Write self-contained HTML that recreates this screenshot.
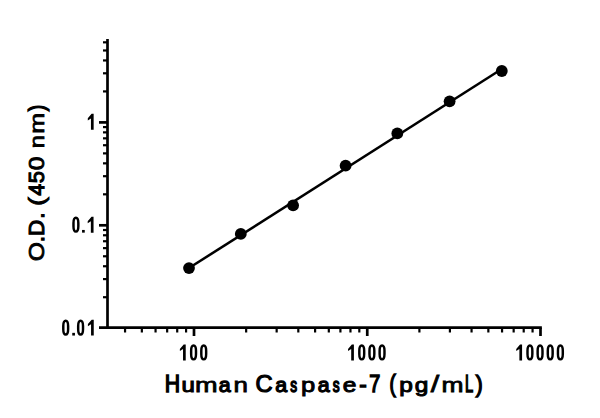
<!DOCTYPE html>
<html><head><meta charset="utf-8"><style>
html,body{margin:0;padding:0;background:#fff;width:600px;height:418px;overflow:hidden}
svg{display:block}
.ti{font-family:"Liberation Sans",sans-serif;font-weight:normal;fill:#000;stroke:#000;stroke-width:1.0px;vector-effect:non-scaling-stroke}
</style></head><body>
<svg width="600" height="418" viewBox="0 0 600 418">
<line x1="107.5" y1="39" x2="107.5" y2="329.05" stroke="#000" stroke-width="2.7"/>
<line x1="99" y1="327.7" x2="541.85" y2="327.7" stroke="#000" stroke-width="2.7"/>
<line x1="99" y1="122.40" x2="107.5" y2="122.40" stroke="#000" stroke-width="2.7"/>
<line x1="99" y1="225.30" x2="107.5" y2="225.30" stroke="#000" stroke-width="2.7"/>
<line x1="103" y1="297.22" x2="107.5" y2="297.22" stroke="#000" stroke-width="2.2"/>
<line x1="103" y1="279.10" x2="107.5" y2="279.10" stroke="#000" stroke-width="2.2"/>
<line x1="103" y1="266.25" x2="107.5" y2="266.25" stroke="#000" stroke-width="2.2"/>
<line x1="103" y1="256.28" x2="107.5" y2="256.28" stroke="#000" stroke-width="2.2"/>
<line x1="103" y1="248.13" x2="107.5" y2="248.13" stroke="#000" stroke-width="2.2"/>
<line x1="103" y1="241.24" x2="107.5" y2="241.24" stroke="#000" stroke-width="2.2"/>
<line x1="103" y1="235.27" x2="107.5" y2="235.27" stroke="#000" stroke-width="2.2"/>
<line x1="103" y1="230.01" x2="107.5" y2="230.01" stroke="#000" stroke-width="2.2"/>
<line x1="103" y1="194.32" x2="107.5" y2="194.32" stroke="#000" stroke-width="2.2"/>
<line x1="103" y1="176.20" x2="107.5" y2="176.20" stroke="#000" stroke-width="2.2"/>
<line x1="103" y1="163.35" x2="107.5" y2="163.35" stroke="#000" stroke-width="2.2"/>
<line x1="103" y1="153.38" x2="107.5" y2="153.38" stroke="#000" stroke-width="2.2"/>
<line x1="103" y1="145.23" x2="107.5" y2="145.23" stroke="#000" stroke-width="2.2"/>
<line x1="103" y1="138.34" x2="107.5" y2="138.34" stroke="#000" stroke-width="2.2"/>
<line x1="103" y1="132.37" x2="107.5" y2="132.37" stroke="#000" stroke-width="2.2"/>
<line x1="103" y1="127.11" x2="107.5" y2="127.11" stroke="#000" stroke-width="2.2"/>
<line x1="103" y1="91.42" x2="107.5" y2="91.42" stroke="#000" stroke-width="2.2"/>
<line x1="103" y1="73.30" x2="107.5" y2="73.30" stroke="#000" stroke-width="2.2"/>
<line x1="103" y1="60.45" x2="107.5" y2="60.45" stroke="#000" stroke-width="2.2"/>
<line x1="103" y1="50.48" x2="107.5" y2="50.48" stroke="#000" stroke-width="2.2"/>
<line x1="103" y1="42.33" x2="107.5" y2="42.33" stroke="#000" stroke-width="2.2"/>
<line x1="194.00" y1="327.7" x2="194.00" y2="336" stroke="#000" stroke-width="2.7"/>
<line x1="367.25" y1="327.7" x2="367.25" y2="336" stroke="#000" stroke-width="2.7"/>
<line x1="540.50" y1="327.7" x2="540.50" y2="336" stroke="#000" stroke-width="2.7"/>
<line x1="125.06" y1="327.7" x2="125.06" y2="332.5" stroke="#000" stroke-width="2.2"/>
<line x1="141.85" y1="327.7" x2="141.85" y2="332.5" stroke="#000" stroke-width="2.2"/>
<line x1="155.56" y1="327.7" x2="155.56" y2="332.5" stroke="#000" stroke-width="2.2"/>
<line x1="167.16" y1="327.7" x2="167.16" y2="332.5" stroke="#000" stroke-width="2.2"/>
<line x1="177.21" y1="327.7" x2="177.21" y2="332.5" stroke="#000" stroke-width="2.2"/>
<line x1="186.07" y1="327.7" x2="186.07" y2="332.5" stroke="#000" stroke-width="2.2"/>
<line x1="246.15" y1="327.7" x2="246.15" y2="332.5" stroke="#000" stroke-width="2.2"/>
<line x1="276.66" y1="327.7" x2="276.66" y2="332.5" stroke="#000" stroke-width="2.2"/>
<line x1="298.31" y1="327.7" x2="298.31" y2="332.5" stroke="#000" stroke-width="2.2"/>
<line x1="315.10" y1="327.7" x2="315.10" y2="332.5" stroke="#000" stroke-width="2.2"/>
<line x1="328.81" y1="327.7" x2="328.81" y2="332.5" stroke="#000" stroke-width="2.2"/>
<line x1="340.41" y1="327.7" x2="340.41" y2="332.5" stroke="#000" stroke-width="2.2"/>
<line x1="350.46" y1="327.7" x2="350.46" y2="332.5" stroke="#000" stroke-width="2.2"/>
<line x1="359.32" y1="327.7" x2="359.32" y2="332.5" stroke="#000" stroke-width="2.2"/>
<line x1="419.40" y1="327.7" x2="419.40" y2="332.5" stroke="#000" stroke-width="2.2"/>
<line x1="449.91" y1="327.7" x2="449.91" y2="332.5" stroke="#000" stroke-width="2.2"/>
<line x1="471.56" y1="327.7" x2="471.56" y2="332.5" stroke="#000" stroke-width="2.2"/>
<line x1="488.35" y1="327.7" x2="488.35" y2="332.5" stroke="#000" stroke-width="2.2"/>
<line x1="502.06" y1="327.7" x2="502.06" y2="332.5" stroke="#000" stroke-width="2.2"/>
<line x1="513.66" y1="327.7" x2="513.66" y2="332.5" stroke="#000" stroke-width="2.2"/>
<line x1="523.71" y1="327.7" x2="523.71" y2="332.5" stroke="#000" stroke-width="2.2"/>
<line x1="532.57" y1="327.7" x2="532.57" y2="332.5" stroke="#000" stroke-width="2.2"/>
<path d="M189,268.04 L501.8,69.00" fill="none" stroke="#000" stroke-width="2.55" stroke-linejoin="round"/>
<circle cx="189.0" cy="268.1" r="5.9" fill="#000"/>
<circle cx="240.8" cy="233.9" r="5.9" fill="#000"/>
<circle cx="293.1" cy="205.3" r="5.9" fill="#000"/>
<circle cx="345.6" cy="165.7" r="5.9" fill="#000"/>
<circle cx="397.3" cy="133.4" r="5.9" fill="#000"/>
<circle cx="449.6" cy="101.3" r="5.9" fill="#000"/>
<circle cx="501.8" cy="71.0" r="5.9" fill="#000"/>
<polygon points="93.65,113.85 93.65,129.75 90.95,129.75 90.95,118.45 87.80,120.45 87.80,118.25 91.60,113.85" fill="#000"/>
<path d="M73.48,223.10 C73.48,215.97 78.33,215.97 78.33,223.10 L78.33,226.30 C78.33,233.43 73.48,233.43 73.48,226.30 Z" fill="none" stroke="#000" stroke-width="2.45"/>
<rect x="82.05" y="229.95" width="2.7" height="2.7" fill="#000"/>
<polygon points="93.55,216.75 93.55,232.65 90.85,232.65 90.85,221.35 87.70,223.35 87.70,221.15 91.50,216.75" fill="#000"/>
<path d="M63.28,326.00 C63.28,318.87 68.12,318.87 68.12,326.00 L68.12,329.20 C68.12,336.33 63.28,336.33 63.28,329.20 Z" fill="none" stroke="#000" stroke-width="2.45"/>
<rect x="72.25" y="332.85" width="2.7" height="2.7" fill="#000"/>
<path d="M78.17,326.00 C78.17,318.87 83.02,318.87 83.02,326.00 L83.02,329.20 C83.02,336.33 78.17,336.33 78.17,329.20 Z" fill="none" stroke="#000" stroke-width="2.45"/>
<polygon points="93.75,319.65 93.75,335.55 91.05,335.55 91.05,324.25 87.90,326.25 87.90,324.05 91.70,319.65" fill="#000"/>
<polygon points="185.72,344.50 185.72,360.40 183.03,360.40 183.03,349.10 179.88,351.10 179.88,348.90 183.68,344.50" fill="#000"/>
<path d="M191.15,350.85 C191.15,343.72 196.00,343.72 196.00,350.85 L196.00,354.05 C196.00,361.18 191.15,361.18 191.15,354.05 Z" fill="none" stroke="#000" stroke-width="2.45"/>
<path d="M201.30,350.85 C201.30,343.72 206.15,343.72 206.15,350.85 L206.15,354.05 C206.15,361.18 201.30,361.18 201.30,354.05 Z" fill="none" stroke="#000" stroke-width="2.45"/>
<polygon points="353.90,344.50 353.90,360.40 351.20,360.40 351.20,349.10 348.05,351.10 348.05,348.90 351.85,344.50" fill="#000"/>
<path d="M359.32,350.85 C359.32,343.72 364.18,343.72 364.18,350.85 L364.18,354.05 C364.18,361.18 359.32,361.18 359.32,354.05 Z" fill="none" stroke="#000" stroke-width="2.45"/>
<path d="M369.47,350.85 C369.47,343.72 374.32,343.72 374.32,350.85 L374.32,354.05 C374.32,361.18 369.47,361.18 369.47,354.05 Z" fill="none" stroke="#000" stroke-width="2.45"/>
<path d="M379.62,350.85 C379.62,343.72 384.48,343.72 384.48,350.85 L384.48,354.05 C384.48,361.18 379.62,361.18 379.62,354.05 Z" fill="none" stroke="#000" stroke-width="2.45"/>
<polygon points="522.08,344.50 522.08,360.40 519.38,360.40 519.38,349.10 516.23,351.10 516.23,348.90 520.02,344.50" fill="#000"/>
<path d="M527.50,350.85 C527.50,343.72 532.35,343.72 532.35,350.85 L532.35,354.05 C532.35,361.18 527.50,361.18 527.50,354.05 Z" fill="none" stroke="#000" stroke-width="2.45"/>
<path d="M537.65,350.85 C537.65,343.72 542.50,343.72 542.50,350.85 L542.50,354.05 C542.50,361.18 537.65,361.18 537.65,354.05 Z" fill="none" stroke="#000" stroke-width="2.45"/>
<path d="M547.80,350.85 C547.80,343.72 552.65,343.72 552.65,350.85 L552.65,354.05 C552.65,361.18 547.80,361.18 547.80,354.05 Z" fill="none" stroke="#000" stroke-width="2.45"/>
<path d="M557.95,350.85 C557.95,343.72 562.80,343.72 562.80,350.85 L562.80,354.05 C562.80,361.18 557.95,361.18 557.95,354.05 Z" fill="none" stroke="#000" stroke-width="2.45"/>
<text transform="translate(164.76,392.3) scale(0.922,1.0)" class="ti" style="font-size:23px;stroke-width:1.30px">H</text>
<text transform="translate(181.59,392.3) scale(1.044,0.9)" class="ti" style="font-size:23px;stroke-width:1.16px">u</text>
<text transform="translate(194.95,392.3) scale(1.179,0.9)" class="ti" style="font-size:23px;stroke-width:0.90px">m</text>
<text transform="translate(218.84,392.3) scale(0.931,0.9)" class="ti" style="font-size:23px;stroke-width:1.30px">a</text>
<text transform="translate(233.53,392.3) scale(1.126,0.9)" class="ti" style="font-size:23px;stroke-width:0.92px">n</text>
<text transform="translate(255.55,392.3) scale(1.030,1.0)" class="ti" style="font-size:23px;stroke-width:1.20px">C</text>
<text transform="translate(275.34,392.3) scale(0.931,0.9)" class="ti" style="font-size:23px;stroke-width:1.30px">a</text>
<text transform="translate(290.37,392.3) scale(0.598,0.9)" class="ti" style="font-size:23px;stroke-width:1.30px">s</text>
<text transform="translate(301.10,392.3) scale(1.112,0.9)" class="ti" style="font-size:23px;stroke-width:0.96px">p</text>
<text transform="translate(317.84,392.3) scale(0.931,0.9)" class="ti" style="font-size:23px;stroke-width:1.30px">a</text>
<text transform="translate(332.87,392.3) scale(0.598,0.9)" class="ti" style="font-size:23px;stroke-width:1.30px">s</text>
<text transform="translate(342.71,392.3) scale(1.066,0.9)" class="ti" style="font-size:23px;stroke-width:1.09px">e</text>
<text transform="translate(359.25,392.3) scale(0.979,1.0)" class="ti" style="font-size:23px;stroke-width:1.30px">-</text>
<text transform="translate(369.23,392.3) scale(0.861,1.0)" class="ti" style="font-size:23px;stroke-width:1.30px">7</text>
<text transform="translate(389.58,392.3) scale(0.820,1.0)" class="ti" style="font-size:23px;stroke-width:1.30px">(</text>
<text transform="translate(399.17,392.3) scale(1.063,0.9)" class="ti" style="font-size:23px;stroke-width:1.10px">p</text>
<text transform="translate(414.72,392.3) scale(1.063,0.9)" class="ti" style="font-size:23px;stroke-width:1.10px">g</text>
<text transform="translate(430.75,392.3) scale(1.330,1.0)" class="ti" style="font-size:23px;stroke-width:0.90px">/</text>
<text transform="translate(441.50,392.3) scale(1.148,0.9)" class="ti" style="font-size:23px;stroke-width:0.90px">m</text>
<text transform="translate(465.04,392.3) scale(0.641,1.0)" class="ti" style="font-size:23px;stroke-width:1.30px">L</text>
<text transform="translate(475.63,392.3) scale(0.902,1.0)" class="ti" style="font-size:23px;stroke-width:1.30px">)</text>
<text transform="translate(44.4,261.32) rotate(-90) scale(1.145,1.0)" class="ti" style="font-size:21.5px;stroke-width:0.90px">O</text>
<text transform="translate(44.4,242.07) rotate(-90) scale(0.977,1.0)" class="ti" style="font-size:21.5px;stroke-width:1.28px">.</text>
<text transform="translate(44.4,235.89) rotate(-90) scale(1.044,1.0)" class="ti" style="font-size:21.5px;stroke-width:1.06px">D</text>
<text transform="translate(44.4,218.47) rotate(-90) scale(0.977,1.0)" class="ti" style="font-size:21.5px;stroke-width:1.28px">.</text>
<text transform="translate(44.4,206.03) rotate(-90) scale(1.263,1.0)" class="ti" style="font-size:21.5px;stroke-width:0.90px">(</text>
<text transform="translate(44.4,195.42) rotate(-90) scale(0.960,1.0)" class="ti" style="font-size:21.5px;stroke-width:1.30px">4</text>
<text transform="translate(44.4,183.33) rotate(-90) scale(1.020,1.0)" class="ti" style="font-size:21.5px;stroke-width:1.14px">5</text>
<text transform="translate(44.4,170.21) rotate(-90) scale(1.138,1.0)" class="ti" style="font-size:21.5px;stroke-width:0.90px">0</text>
<text transform="translate(44.4,148.21) rotate(-90) scale(1.095,0.92)" class="ti" style="font-size:21.5px;stroke-width:0.92px">n</text>
<text transform="translate(44.4,133.82) rotate(-90) scale(1.168,0.92)" class="ti" style="font-size:21.5px;stroke-width:0.90px">m</text>
<text transform="translate(44.4,111.36) rotate(-90) scale(0.895,1.0)" class="ti" style="font-size:21.5px;stroke-width:1.30px">)</text>
</svg>
</body></html>
